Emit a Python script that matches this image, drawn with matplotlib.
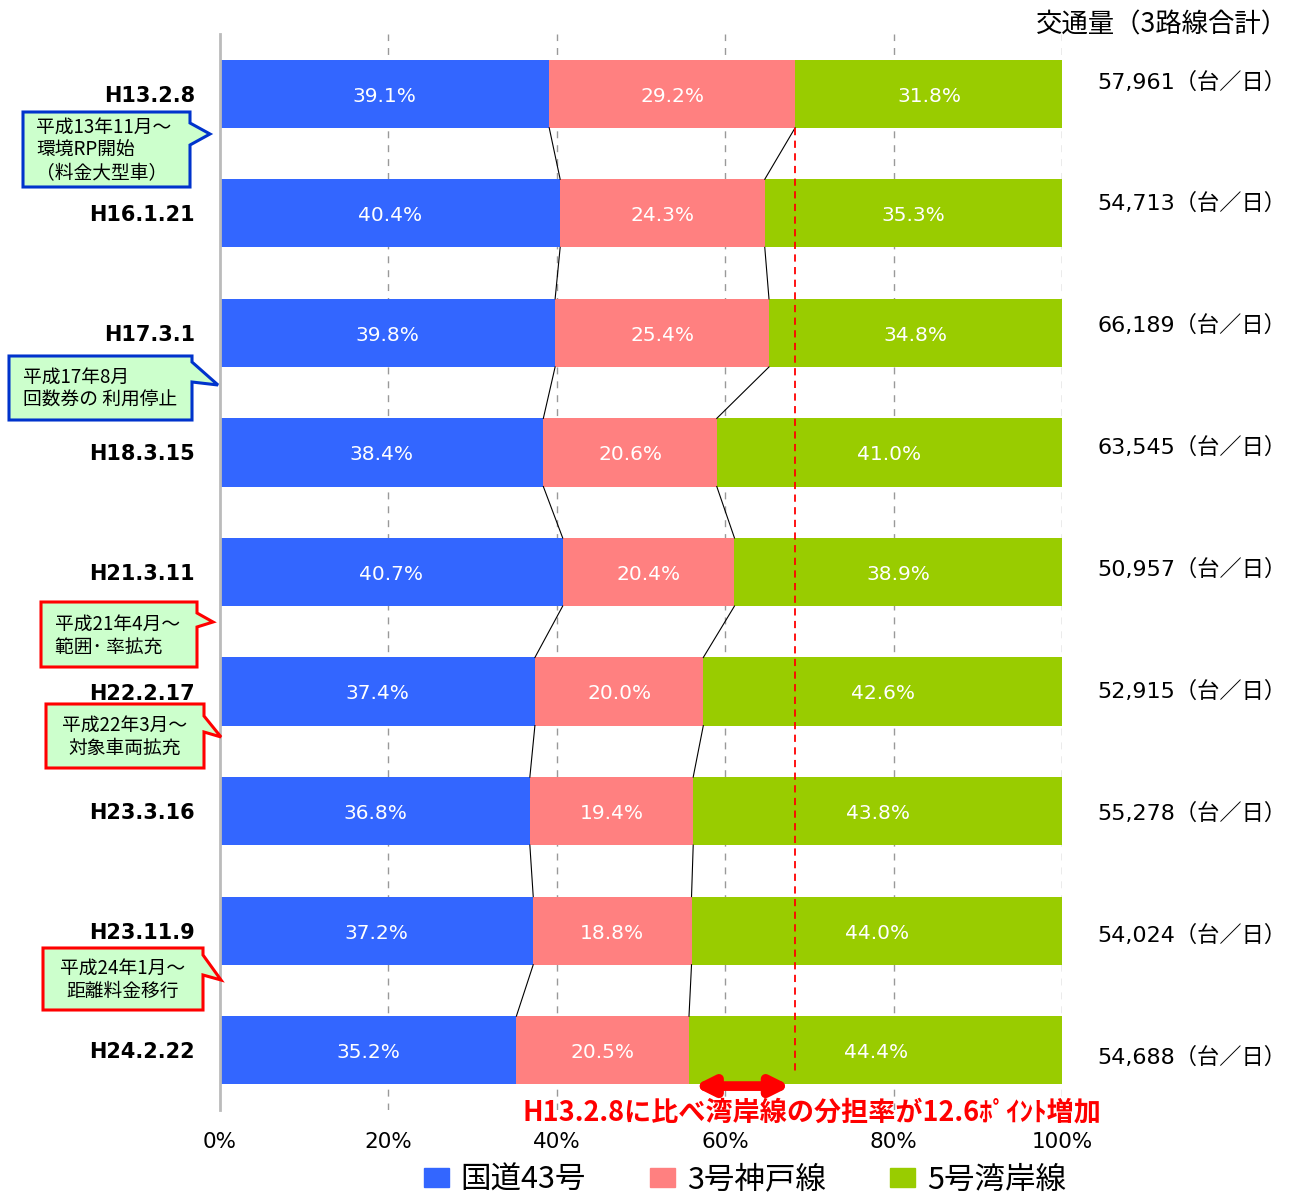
import matplotlib
matplotlib.use('Agg')
import matplotlib.pyplot as plt
from matplotlib.patches import Polygon, Patch
from matplotlib.transforms import blended_transform_factory
import numpy as np

plt.rcParams['font.family'] = ['DejaVu Sans', 'Noto Sans CJK JP']

# ---------------- data ----------------
dates = ['H13.2.8', 'H16.1.21', 'H17.3.1', 'H18.3.15', 'H21.3.11',
         'H22.2.17', 'H23.3.16', 'H23.11.9', 'H24.2.22']
route43 = [39.1, 40.4, 39.8, 38.4, 40.7, 37.4, 36.8, 37.2, 35.2]
kobe3 = [29.2, 24.3, 25.4, 20.6, 20.4, 20.0, 19.4, 18.8, 20.5]
wangan5 = [31.8, 35.3, 34.8, 41.0, 38.9, 42.6, 43.8, 44.0, 44.4]
traffic = [57961, 54713, 66189, 63545, 50957, 52915, 55278, 54024, 54688]
series_names = ['国道43号', '3号神戸線', '5号湾岸線']
colors = ['#3366FF', '#FF8080', '#99CC00']
xticks = [0, 20, 40, 60, 80, 100]
title_text = '交通量（3路線合計）'
unit_text = '（台／日）'

callout_texts = ['平成13年11月～\n環境RP開始\n（料金大型車）',
                 '平成17年8月\n回数券の 利用停止',
                 '平成21年4月～\n範囲･ 率拡充',
                 '平成22年3月～\n対象車両拡充',
                 '平成24年1月～\n距離料金移行']
callout_colors = ['#0033CC', '#0033CC', '#FF0000', '#FF0000', '#FF0000']

# ---------------- layout (pixels) ----------------
W, H = 1292, 1198
fig = plt.figure(figsize=(W / 100, H / 100), dpi=100)
ax = fig.add_axes([220 / W, 1 - 1110 / H, 842 / W, (1110 - 34) / H])

y = np.arange(len(dates))
bh = 0.57
series = [route43, kobe3, wangan5]
left = np.zeros(len(dates))
for vals, c in zip(series, colors):
    vals = np.array(vals)
    ax.barh(y, vals, left=left, height=bh, color=c, zorder=2)
    for yi, l, v in zip(y, left, vals):
        ax.text(l + v / 2, yi + 0.02, f'{v:.1f}%', color='white', ha='center',
                va='center', fontsize=14.5, zorder=5)
    left = left + vals

# connecting lines between bars
b1 = np.array(route43)
b2 = b1 + np.array(kobe3)
for b in (b1, b2):
    for i in range(len(dates) - 1):
        ax.plot([b[i], b[i + 1]], [i + bh / 2, i + 1 - bh / 2],
                color='black', lw=0.8, zorder=3)

# grid
for xv in xticks[1:]:
    ax.axvline(xv, color='#999999', lw=1, ls=(0, (5, 5)), zorder=1)

ax.set_xlim(0, 100)
ax.set_ylim(len(dates) - 0.5, -0.5)
for s in ['top', 'right', 'bottom']:
    ax.spines[s].set_visible(False)
ax.spines['left'].set_color('#BBBBBB')
ax.spines['left'].set_linewidth(2)

ax.set_xticks(xticks)
ax.set_xticklabels([f'{v}%' for v in xticks])
ax.tick_params(axis='x', length=0, pad=16, labelsize=15.5)
ax.set_yticks(y)
ax.set_yticklabels(dates, fontsize=15, fontweight='bold')
ax.tick_params(axis='y', length=0, pad=18)

# red dashed reference line at first-year boundary
ref = route43[0] + kobe3[0]
ax.plot([ref, ref], [bh / 2, len(dates) - 1 + 0.2], color='red',
        ls=(0, (4, 3)), lw=1.3, zorder=4)

# double arrow
last_start = 100 - wangan5[-1]
ax.annotate('', xy=(last_start, len(dates) - 1 + 0.3),
            xytext=(ref, len(dates) - 1 + 0.3),
            arrowprops=dict(arrowstyle='<|-|>', color='red', lw=7,
                            mutation_scale=26, shrinkA=3, shrinkB=4),
            zorder=6, annotation_clip=False)
diff = wangan5[-1] - wangan5[0]
fig.text(812 / W, 1 - 1112 / H,
         f'H13.2.8に比べ湾岸線の分担率が{diff:.1f}ﾎﾟｲﾝﾄ増加',
         color='red', fontsize=19.5, fontweight='bold', ha='center',
         va='center', family=['Noto Sans CJK JP'])

# right-hand traffic labels
tr = blended_transform_factory(ax.transAxes, ax.transData)
for i, v in enumerate(traffic):
    ax.text(1.0416, -0.1 + i * 1.02, f'{v:,}{unit_text}', transform=tr,
            ha='left', va='center', fontsize=16, clip_on=False)

fig.text(1288 / W, 1 - 25 / H, title_text, ha='right', va='center',
         fontsize=19, family=['Noto Sans CJK JP'])

# callouts (pixel geometry)
def px(x, yy):
    return (x / W, 1 - yy / H)

callout_geom = [
    ((23, 112, 190, 187), (123, 210, 134, 145), 'left', 36),
    ((9, 356, 192, 420), (362, 218, 385, 382), 'left', 23),
    ((41, 602, 197, 667), (613, 213, 622, 627), 'left', 55),
    ((46, 704, 204, 768), (716, 221, 737, 732), 'center', 125),
    ((43, 948, 203, 1010), (955, 221, 980, 975), 'center', 123),
]
for txt, col, (box, ptr, al, tx) in zip(callout_texts, callout_colors, callout_geom):
    x0, y0, x1, y1 = box
    pt, tipx, tipy, pb = ptr
    verts = [px(x0, y0), px(x1, y0), px(x1, pt), px(tipx, tipy),
             px(x1, pb), px(x1, y1), px(x0, y1)]
    fig.add_artist(Polygon(verts, closed=True, transform=fig.transFigure,
                           fc='#CCFFCC', ec=col, lw=2.2))
    fig.text(tx / W, 1 - ((y0 + y1) / 2 + 1) / H, txt, ha=al, va='center',
             multialignment=al, fontsize=13.5, linespacing=1.15,
             family=['Noto Sans CJK JP'])

handles = [Patch(color=c) for c in colors]
fig.legend(handles, series_names, loc='center',
           bbox_to_anchor=(745 / W, 1 - 1180 / H), ncol=3, frameon=False,
           prop={'family': ['Noto Sans CJK JP'], 'size': 22},
           handlelength=0.8, handleheight=0.55, handletextpad=0.4,
           columnspacing=2.1, borderpad=0, borderaxespad=0)

fig.savefig('out.png', dpi=100)
